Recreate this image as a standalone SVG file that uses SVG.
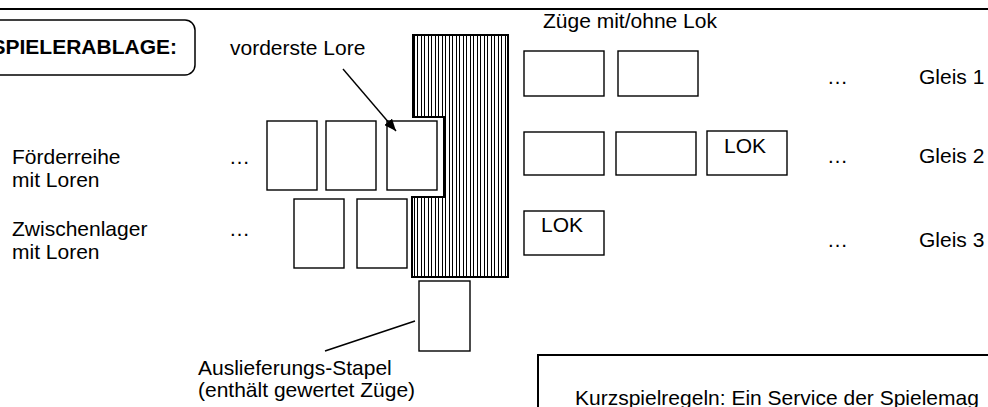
<svg xmlns="http://www.w3.org/2000/svg" width="988" height="407" viewBox="0 0 988 407">
<defs>
<style>
text{font-family:"Liberation Sans",Arial,sans-serif;font-size:21px;fill:#000}
.b{font-weight:bold}
.card{fill:#fff;stroke:#000;stroke-width:1.4}
.thick{fill:none;stroke:#000;stroke-width:2}
.ln{fill:none;stroke:#000;stroke-width:1.4}
</style>
<pattern id="hatch" patternUnits="userSpaceOnUse" width="7" height="10" x="413" y="0">
<rect width="7" height="10" fill="#fff"/>
<rect x="1" y="0" width="1" height="10" fill="#000"/>
<rect x="4" y="0" width="1" height="10" fill="#000"/>
</pattern>
<marker id="ah" markerWidth="12" markerHeight="10" refX="12" refY="5" orient="auto" markerUnits="userSpaceOnUse">
<path d="M0,0 L12,5 L0,10 Z" fill="#000"/>
</marker>
</defs>
<rect width="988" height="407" fill="#fff"/>
<line x1="0" y1="9" x2="988" y2="9" stroke="#000" stroke-width="2"/>

<g id="spielerablage">
<rect x="-20" y="20" width="215" height="55" rx="10" ry="10" fill="none" stroke="#000" stroke-width="1.5"/>
<text class="b" x="177" y="54" text-anchor="end">SPIELERABLAGE:</text>
</g>

<g id="labels">
<text x="230" y="55">vorderste Lore</text>
<text x="543" y="28">Züge mit/ohne Lok</text>
<text x="12" y="164">Förderreihe</text>
<text x="12" y="187">mit Loren</text>
<text x="12" y="236">Zwischenlager</text>
<text x="12" y="259">mit Loren</text>
<text x="229" y="164">…</text>
<text x="229" y="236">…</text>
<text x="198" y="375">Auslieferungs-Stapel</text>
<text x="198" y="397">(enthält gewertet Züge)</text>
</g>

<g id="stapel">
<path d="M413,35 H508 V277 H412 V197 H444 V117 H413 Z" fill="url(#hatch)" stroke="#000" stroke-width="2"/>
</g>

<g id="foerderreihe">
<rect class="card" x="267" y="121" width="50" height="69"/>
<rect class="card" x="326" y="121" width="50" height="69"/>
<rect class="card" x="387" y="121" width="50" height="69"/>
</g>

<g id="zwischenlager">
<rect class="card" x="294" y="199" width="50" height="69"/>
<rect class="card" x="357" y="199" width="50" height="69"/>
</g>

<g id="auslieferung">
<rect class="card" x="419" y="281" width="51" height="70"/>
</g>

<g id="gleis1">
<rect class="card" x="524" y="51" width="80" height="45"/>
<rect class="card" x="618" y="51" width="80" height="45"/>
<text x="827" y="84">…</text>
<text x="919" y="84">Gleis 1</text>
</g>

<g id="gleis2">
<rect class="card" x="524" y="132" width="80" height="43"/>
<rect class="card" x="616" y="132" width="80" height="43"/>
<rect class="card" x="707" y="131" width="80" height="44"/>
<text x="724" y="153">LOK</text>
<text x="827" y="163">…</text>
<text x="919" y="163">Gleis 2</text>
</g>

<g id="gleis3">
<rect class="card" x="524" y="211" width="80" height="44"/>
<text x="541" y="232">LOK</text>
<text x="827" y="247">…</text>
<text x="919" y="247">Gleis 3</text>
</g>

<g id="kurzspielregeln">
<rect x="538" y="355" width="470" height="80" class="thick"/>
<text x="575" y="405">Kurzspielregeln: Ein Service der Spielemag</text>
</g>

<g id="connectors">
<line class="ln" x1="343" y1="69" x2="396" y2="131" marker-end="url(#ah)"/>
<line class="ln" x1="415" y1="321" x2="325" y2="351"/>
</g>
</svg>
